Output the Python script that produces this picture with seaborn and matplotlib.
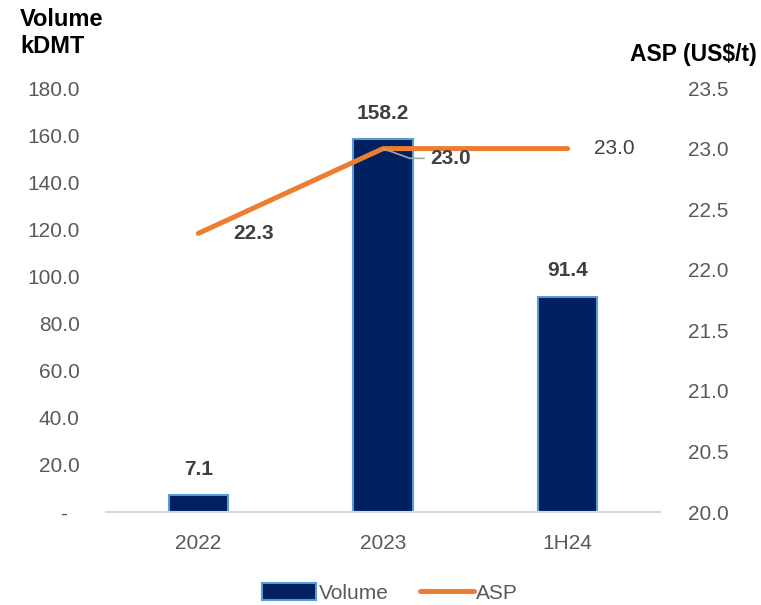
import matplotlib.pyplot as plt
import seaborn as sns
from matplotlib.lines import Line2D
from matplotlib.patches import Patch
from matplotlib.ticker import FuncFormatter, MultipleLocator

# Dados
categorias = ["2022", "2023", "1H24"]
volume = [7.1, 158.2, 91.4]
asp = [22.3, 23.0, 23.0]

NAVY = "#002060"
EDGE = "#5B9BD5"
ORANGE = "#ED7D31"
TXT = "#404040"
TICK = "#595959"

sns.set_style("white")
plt.rcParams["font.family"] = ["Liberation Sans", "DejaVu Sans"]

fig, ax = plt.subplots(figsize=(7.61, 6.05), dpi=100)
fig.subplots_adjust(left=0.1393, right=0.8673, bottom=0.1537, top=0.8545)

# Barras (volume)
sns.barplot(x=categorias, y=volume, color=NAVY, width=0.32,
            edgecolor=EDGE, linewidth=1.5, saturation=1, ax=ax)
ax.set_ylim(0, 180)
ax.set_xlim(-0.5, 2.5)
ax.yaxis.set_major_locator(MultipleLocator(20))
ax.yaxis.set_major_formatter(FuncFormatter(lambda v, _: "-  " if v == 0 else f"{v:.1f}"))
ax.tick_params(axis="y", length=0, pad=19, labelsize=15, labelcolor=TICK)
ax.tick_params(axis="x", length=0, pad=16, labelsize=15, labelcolor=TICK)
ax.set_xlabel("")
ax.set_ylabel("")
for s in ["top", "left", "right"]:
    ax.spines[s].set_visible(False)
ax.spines["bottom"].set_color("#D9D9D9")
ax.spines["bottom"].set_linewidth(1.5)

for i, v in enumerate(volume):
    ax.annotate(f"{v:.1f}", (i, v), xytext=(0, 12), textcoords="offset points",
                ha="center", va="bottom", fontsize=15, fontweight="bold", color=TXT)

# Linha (ASP)
ax2 = ax.twinx()
sns.lineplot(x=categorias, y=asp, color=ORANGE, linewidth=3.6, sort=False,
             solid_capstyle="round", ax=ax2)
ax2.set_ylim(20.0, 23.5)
ax2.yaxis.set_major_locator(MultipleLocator(0.5))
ax2.yaxis.set_major_formatter(FuncFormatter(lambda v, _: f"{v:.1f}"))
ax2.tick_params(axis="y", length=0, pad=20, labelsize=15, labelcolor=TICK)
ax2.set_ylabel("")
for s in ax2.spines.values():
    s.set_visible(False)

ax2.annotate(f"{asp[0]:.1f}", (0, asp[0]), xytext=(25, 0), textcoords="offset points",
             ha="left", va="center", fontsize=15, fontweight="bold", color=TXT)
ax2.annotate(f"{asp[1]:.1f}", (1, asp[1]), xytext=(34, -7), textcoords="offset points",
             ha="left", va="center", fontsize=15, fontweight="bold", color=TXT,
             arrowprops=dict(arrowstyle="-", color="#A6A6A6", lw=1.2,
                             shrinkA=2, shrinkB=0,
                             connectionstyle="angle,angleA=0,angleB=-20,rad=0"))
ax2.annotate(f"{asp[2]:.1f}", (2, asp[2]), xytext=(19, 0), textcoords="offset points",
             ha="left", va="center", fontsize=15, color=TXT)

# Títulos dos eixos
fig.text(20 / 761, 1 - 8 / 605, "Volume\nkDMT", ha="left", va="top",
         fontsize=17, fontweight="bold", color="black", linespacing=1.2)
fig.text(757 / 761, 1 - 55 / 605, "ASP (US$/t)", ha="right", va="center",
         fontsize=16.5, fontweight="bold", color="black")

# Legenda
handles = [
    Patch(facecolor=NAVY, edgecolor=EDGE, linewidth=1.5, label="Volume"),
    Line2D([0], [0], color=ORANGE, linewidth=3.6, label="ASP"),
]
fig.legend(handles=handles, loc="center", bbox_to_anchor=(390 / 761, 1 - 593 / 605),
           ncol=2, frameon=False, fontsize=15, labelcolor=TICK,
           handlelength=2.6, handleheight=0.9, handletextpad=0.1, columnspacing=1.5)

fig.savefig("out.png", dpi=100)
